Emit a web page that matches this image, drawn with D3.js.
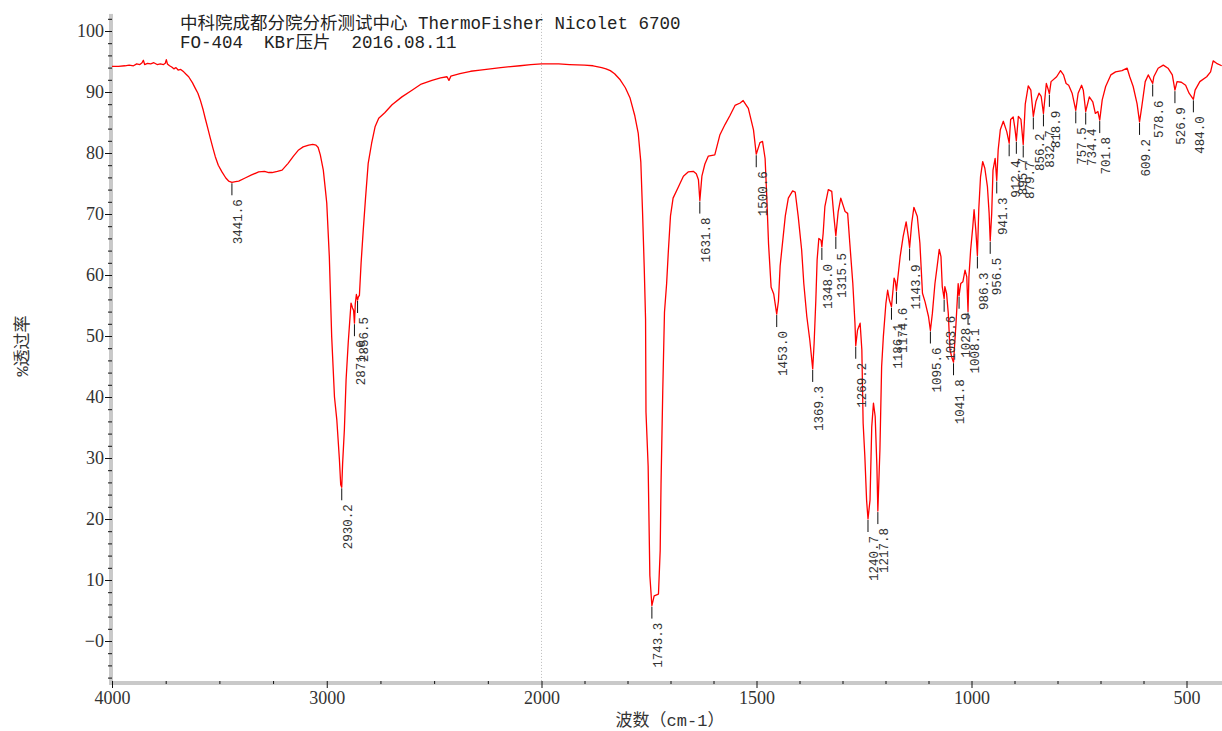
<!DOCTYPE html>
<html><head><meta charset="utf-8">
<script src="https://cdn.jsdelivr.net/npm/d3@7"></script>
<style>html,body{margin:0;padding:0;background:#fff;}svg{display:block;}</style>
</head><body>
<script>
// ---- data ----
const titleLines = ["中科院成都分院分析测试中心 ThermoFisher Nicolet 6700", "FO-404  KBr压片  2016.08.11"];
const xAxisTitle = "波数（cm-1）";
const yAxisTitle = "%透过率";
const xMajorTicks = [4000, 3000, 2000, 1500, 1000, 500];
const xMajorLabels = ["4000", "3000", "2000", "1500", "1000", "500"];
const xMinorTicks = [3750, 3500, 3250, 2750, 2500, 2250, 1900, 1800, 1700, 1600, 1400, 1300, 1200, 1100, 900, 800, 700, 600];
const yMajorTicks = [100, 90, 80, 70, 60, 50, 40, 30, 20, 10, 0];
const yMajorLabels = ["100", "90", "80", "70", "60", "50", "40", "30", "20", "10", "\u22120"];
const yMinorTicks = [102, 98, 96, 94, 92, 88, 86, 84, 82, 78, 76, 74, 72, 68, 66, 64, 62, 58, 56, 54, 52, 48, 46, 44, 42, 38, 36, 34, 32, 28, 26, 24, 22, 18, 16, 14, 12, 8, 6, 4, 2, -2, -4, -6];

const wavenumbers = [4000,3970,3940,3920,3900,3885,3870,3860,3854,3848,3835,3820,3805,3790,3775,3760,3752,3747,3742,3732,3722,3712,3702,3692,3680,3666,3655,3643,3625,3612,3600,3589,3575,3566,3555,3542,3530,3519,3505,3488,3470,3457,3441.6,3425,3410,3380,3350,3317,3290,3270,3255,3230,3208,3180,3155,3131,3110,3084,3065,3050,3040,3030,3016,3007,3000,2988,2977,2964,2953,2941,2935,2930.2,2926,2918,2910,2900,2887,2880,2875,2871,2867,2862,2856.5,2852,2848,2840,2830,2819,2807,2791,2775,2758,2730,2696,2650,2603,2560,2510,2470,2440,2431,2422,2380,2330,2286,2190,2100,2050,2000,1960,1935,1900,1880,1860,1850,1840,1830,1817,1805,1794,1783,1775,1769,1765,1761,1758,1757,1752,1748,1743.3,1738,1728,1724,1722,1718,1714,1709,1705,1700,1694,1682,1670,1659,1647,1640,1635,1631.8,1627,1620,1612,1597,1585,1573,1562,1550,1538,1531,1519,1507,1500.6,1492,1486,1480,1476,1472,1466,1460,1453,1449,1445,1439,1433,1426,1416,1410,1403,1395,1390,1383,1376,1369.3,1366,1362,1359,1355,1350,1348,1345,1341,1333,1325,1320,1315.5,1310,1304,1294,1288,1283,1276,1271,1269.2,1265,1259,1255,1252,1248,1244,1240.7,1236,1232,1228,1224,1220,1217.8,1213,1209,1205,1199,1195,1191,1186.1,1180,1177,1174.6,1166,1159,1152,1147,1143.9,1139,1134,1126,1120,1114,1108,1100,1095.6,1091,1085,1079,1075,1071,1068,1063.6,1062,1058,1054,1050,1045,1041.8,1036,1031,1028.9,1025,1020,1015,1011,1008.1,1006,1002,997,994,990,986.3,983,979,974,969,963,959,956.5,953,950,945,941.3,938,933,926,918,912.4,909,903,899,895.7,891,885,879.7,875,868,862,856.2,850,843,838,832.7,826,822,818.9,815,802,793,786,780,774,766,757.5,752,744,740,734.4,726,718,712,706,701.8,696,688,676,665,650,638,632,624,615,609.2,604,596,589,578.6,576,566,554,543,533,526.9,522,512,502,494,484,480,469,453,444,438,430,418];
const transmittance = [94.2,94.2,94.3,94.4,94.3,94.6,94.5,94.8,95.2,94.5,94.7,94.6,94.8,94.5,94.6,94.5,94.7,95.3,94.6,94.3,94.1,93.8,94.0,93.6,93.7,93.3,92.9,92.5,91.5,90.6,89.8,88.7,87.0,85.7,84.2,82.4,80.8,79.4,78.0,76.9,75.9,75.4,75.2,75.3,75.4,75.9,76.4,76.9,77.0,76.8,76.8,77.0,77.2,78.3,79.5,80.5,81.0,81.3,81.4,81.3,80.9,79.7,77.2,74.2,71.8,63.0,49.9,40.0,36.2,29.7,25.6,25.2,29.2,34.6,42.8,48.9,55.4,54.6,54.2,52.1,55.3,56.8,55.9,56.5,56.6,62.0,67.4,72.8,78.3,81.6,84.3,85.7,86.6,87.9,89.2,90.3,91.3,91.9,92.3,92.5,91.9,92.6,93.0,93.4,93.6,94.0,94.3,94.5,94.6,94.6,94.5,94.4,94.3,94.0,93.8,93.5,93.0,92.0,90.7,89.0,86.1,83.2,78.5,70.3,61.0,52.8,37.5,28.7,10.7,5.8,7.4,7.7,14.8,25.8,41.0,53.9,58.6,63.9,69.7,72.6,74.4,76.2,76.9,77.0,76.6,75.6,72.2,76.2,78.2,79.5,79.7,83.0,84.7,86.1,87.8,88.2,88.6,87.3,83.8,79.8,81.7,81.9,79.1,72.6,65.1,58.0,56.9,53.6,55.7,61.5,65.6,69.7,72.6,73.8,73.6,69.6,64.1,58.6,53.2,49.3,44.6,48.8,55.9,62.5,66.0,65.7,64.6,66.8,71.2,74.0,73.7,69.6,66.4,70.4,72.6,70.4,70.1,65.2,58.6,52.1,48.4,51.0,52.1,47.7,35.7,30.2,23.1,20.0,23.1,35.1,39.0,36.8,28.6,21.3,31.3,45.0,49.9,55.4,57.5,55.9,54.8,59.5,58.9,57.4,63.0,66.3,68.7,66.3,64.5,68.5,71.1,69.6,65.2,57.0,55.6,53.2,50.9,53.7,58.6,61.9,64.2,63.0,58.1,56.1,58.1,57.0,53.7,47.7,46.3,45.7,52.1,58.6,56.6,58.6,58.9,60.8,59.7,54.0,59.7,64.1,67.9,70.7,67.4,63.2,70.9,76.1,78.6,77.5,74.5,70.1,65.6,70.1,77.2,79.1,75.5,80.5,83.8,85.2,83.5,81.6,85.5,85.9,84.0,82.0,86.0,85.5,81.4,88.0,91.0,90.3,86.0,88.5,89.8,89.3,86.5,91.4,90.5,89.7,91.7,92.5,93.5,92.8,91.4,91.1,89.8,87.0,89.8,91.1,90.3,86.8,89.2,88.4,86.5,86.8,85.4,88.7,90.9,92.8,93.3,93.5,93.9,92.5,90.9,88.1,85.1,87.6,91.7,92.8,91.4,92.5,93.9,94.4,93.9,92.8,90.3,91.7,91.6,91.1,89.8,88.8,90.3,91.7,92.5,93.3,95.1,94.7,94.3];

const peakWavenumbers = [3441.6,2930.2,2871.0,2856.5,1743.3,1631.8,1500.6,1453.0,1369.3,1348.0,1315.5,1269.2,1240.7,1217.8,1186.1,1174.6,1143.9,1095.6,1063.6,1041.8,1028.9,1008.1,986.3,956.5,941.3,912.4,895.7,879.7,856.2,832.7,818.9,757.5,734.4,701.8,609.2,578.6,526.9,484.0];
const peakTransmittance = [75.2,25.2,52.1,55.9,5.8,72.2,79.8,53.6,44.6,64.6,66.4,48.4,20.0,21.3,54.8,57.4,64.5,50.9,56.1,45.7,56.6,54.0,63.2,65.6,75.5,81.6,82.0,81.4,86.0,86.5,89.7,87.0,86.8,85.4,85.1,91.4,90.3,88.8];

// ---- chart ----
const W = 1222, H = 731;
const svg = d3.select("body").append("svg").attr("width", W).attr("height", H);

const x = d3.scaleLinear().domain([4000, 2000, 400]).range([112, 541.5, 1229.5]);
const y = d3.scaleLinear().domain([0, 100]).range([641, 31]);
const yTop = y(102.8), yBot = 681;

const serif = "'Liberation Serif','Noto Sans CJK SC',serif";
const mono = "'Liberation Mono','Noto Sans CJK SC',monospace";

// gray axis bands
svg.append("rect").attr("x", 109).attr("y", yTop).attr("width", 4).attr("height", yBot + 4 - yTop).attr("fill", "#c9c9c9");
svg.append("rect").attr("x", 109).attr("y", yBot).attr("width", W - 109).attr("height", 4).attr("fill", "#c9c9c9");

// dotted 2000 line
svg.append("line").attr("x1", x(2000)).attr("x2", x(2000)).attr("y1", yTop).attr("y2", yBot)
  .attr("stroke", "#bdbdbd").attr("stroke-width", 1).attr("stroke-dasharray", "1,2");

// y axis
const yMinorAxis = svg.append("g").attr("transform", "translate(112,0)")
  .call(d3.axisLeft(y).tickValues(yMinorTicks).tickSize(4).tickFormat(""));
const yMajorAxis = svg.append("g").attr("transform", "translate(112,0)")
  .call(d3.axisLeft(y).tickValues(yMajorTicks).tickSize(7).tickPadding(1).tickFormat((d, i) => yMajorLabels[i]));
[yMinorAxis, yMajorAxis].forEach(g => { g.select(".domain").remove(); g.selectAll("line").attr("stroke", "#111"); });
yMajorAxis.selectAll("text").attr("font-family", serif).attr("font-size", 18).attr("fill", "#333");

// x axis
const xMinorAxis = svg.append("g").attr("transform", `translate(0,${yBot})`)
  .call(d3.axisBottom(x).tickValues(xMinorTicks).tickSize(3).tickFormat(""));
const xMajorAxis = svg.append("g").attr("transform", `translate(0,${yBot})`)
  .call(d3.axisBottom(x).tickValues(xMajorTicks).tickSize(7).tickFormat((d, i) => xMajorLabels[i]));
[xMinorAxis, xMajorAxis].forEach(g => { g.select(".domain").remove(); g.selectAll("line").attr("stroke", "#111"); });
xMajorAxis.selectAll("text").attr("font-family", serif).attr("font-size", 18).attr("fill", "#333")
  .attr("y", 23).attr("dy", 0);

// spectrum
const pts = wavenumbers.map((w, i) => [w, transmittance[i]]);
svg.append("path").datum(pts)
  .attr("fill", "none").attr("stroke", "#ff0000").attr("stroke-width", 1.3).attr("stroke-linejoin", "round")
  .attr("d", d3.line().x(d => x(d[0])).y(d => y(d[1])));

// peak markers
const peaks = peakWavenumbers.map((w, i) => ({ w, t: peakTransmittance[i] }));
const pg = svg.append("g");
pg.selectAll("line").data(peaks).join("line")
  .attr("x1", d => x(d.w)).attr("x2", d => x(d.w))
  .attr("y1", d => y(d.t) + 1).attr("y2", d => y(d.t) + 13)
  .attr("stroke", "#111").attr("stroke-width", 1);
const fmt = d3.format(".1f");
pg.selectAll("text").data(peaks).join("text")
  .attr("transform", d => `translate(${x(d.w) + 10.5},${y(d.t) + 17}) rotate(-90)`)
  .attr("text-anchor", "end")
  .attr("font-family", mono).attr("font-size", 12.5).attr("fill", "#333")
  .text(d => fmt(d.w));

// titles
svg.selectAll("text.title").data(titleLines).join("text").attr("class", "title")
  .attr("x", 180).attr("y", (d, i) => 29 + i * 19)
  .attr("font-family", mono).attr("font-size", 17.5).attr("fill", "#222")
  .attr("xml:space", "preserve").style("white-space", "pre")
  .text(d => d);

svg.append("text").attr("x", 670).attr("y", 726).attr("text-anchor", "middle")
  .attr("font-family", mono).attr("font-size", 17).attr("fill", "#333").text(xAxisTitle);

svg.append("text").attr("transform", "translate(28,346) rotate(-90)").attr("text-anchor", "middle")
  .attr("font-family", mono).attr("font-size", 17).attr("fill", "#333").text(yAxisTitle);
</script>
</body></html>
